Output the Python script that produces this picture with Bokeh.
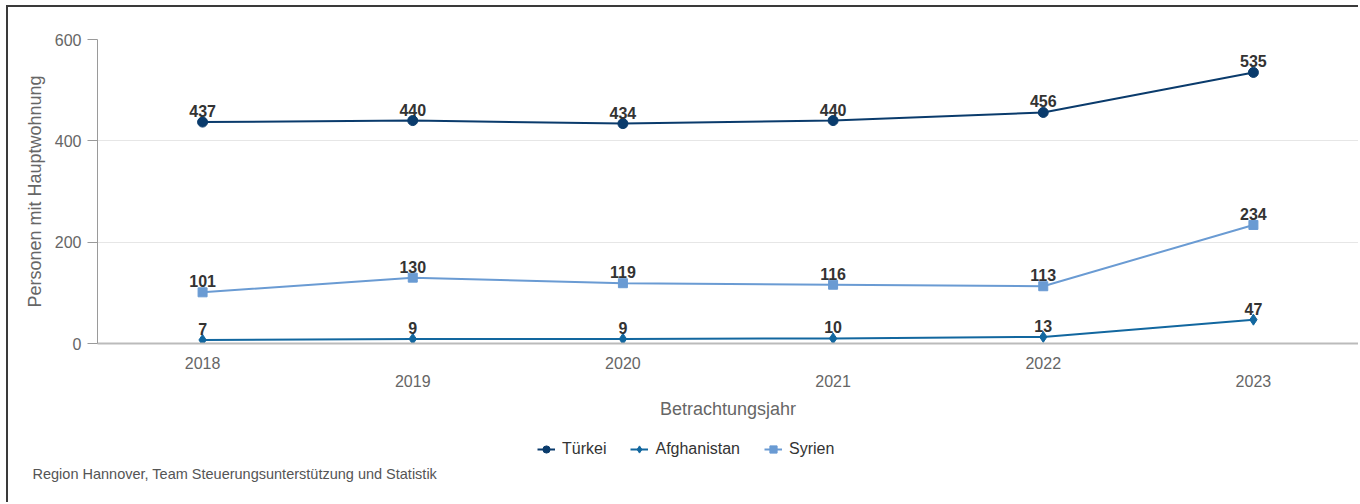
from bokeh.plotting import figure
from bokeh.models import (ColumnDataSource, LabelSet, Legend, LegendItem, Title,
                          FixedTicker, Range1d, LinearAxis)
from bokeh.layouts import column
from bokeh.core.properties import value
from bokeh.embed import file_html
from bokeh.resources import INLINE

years = [2018, 2019, 2020, 2021, 2022, 2023]
tuerkei = [437, 440, 434, 440, 456, 535]
afghanistan = [7, 9, 9, 10, 13, 47]
syrien = [101, 130, 119, 116, 113, 234]
y_ticks = [0, 200, 400, 600]

FONT = "Liberation Sans"
C_T = "#0a3b6c"
C_A = "#12679f"
C_S = "#6a9bd3"
BORDER = "2px solid #3a3a3a"

# ---------------- main chart ----------------
p = figure(x_range=Range1d(years[0] - 0.5, years[-1] + 0.5), y_range=Range1d(0, 600),
           width=1352, height=426, output_backend="svg", toolbar_location=None,
           x_axis_location=None,
           min_border_left=89, min_border_right=2, min_border_top=32,
           min_border_bottom=90)
p.styles = {"border-left": BORDER, "border-top": BORDER,
            "margin-left": "6px", "margin-top": "5px"}
p.outline_line_color = None
p.background_fill_color = "white"
p.border_fill_color = "white"

p.xgrid.grid_line_color = None
p.ygrid.grid_line_color = "#e6e6e6"
p.ygrid.ticker = FixedTicker(ticks=y_ticks)

p.yaxis.ticker = FixedTicker(ticks=y_ticks)
p.yaxis.axis_line_color = "#9a9a9a"
p.yaxis.major_tick_line_color = "#9a9a9a"
p.yaxis.major_tick_out = 10
p.yaxis.major_tick_in = 0
p.yaxis.minor_tick_line_color = None
p.yaxis.major_label_text_font = FONT
p.yaxis.major_label_text_font_size = "16px"
p.yaxis.major_label_text_color = "#666666"
p.yaxis.major_label_standoff = 6
p.yaxis.axis_label = "Personen mit Hauptwohnung"
p.yaxis.axis_label_text_font = FONT
p.yaxis.axis_label_text_font_size = "18px"
p.yaxis.axis_label_text_font_style = "normal"
p.yaxis.axis_label_text_color = "#666666"
p.yaxis.axis_label_standoff = 7

# x axis: two staggered rows of year labels
xa = LinearAxis(ticker=FixedTicker(ticks=years[0::2]),
                axis_line_color="#bbbbbb", axis_line_width=2,
                major_tick_line_color=None, minor_tick_line_color=None,
                major_tick_out=0, major_tick_in=0,
                major_label_text_font=FONT, major_label_text_font_size="16px",
                major_label_text_color="#666666", major_label_standoff=13)
p.add_layout(xa, "below")
xb = LinearAxis(ticker=FixedTicker(ticks=years[1::2]),
                axis_line_color=None, major_tick_line_color=None,
                minor_tick_line_color=None, major_tick_out=0, major_tick_in=0,
                major_label_text_font=FONT, major_label_text_font_size="16px",
                major_label_text_color="#666666", major_label_standoff=3,
                axis_label="Betrachtungsjahr", axis_label_text_font=FONT,
                axis_label_text_font_size="18px",
                axis_label_text_font_style="normal",
                axis_label_text_color="#666666", axis_label_standoff=9)
p.add_layout(xb, "below")

series = [("Türkei", tuerkei, C_T, "circle", 10),
          ("Afghanistan", afghanistan, C_A, "diamond", 11),
          ("Syrien", syrien, C_S, "square", 9)]
for name, vals, col, marker, size in series:
    src = ColumnDataSource(dict(x=years, y=vals, t=[str(v) for v in vals]))
    p.line("x", "y", source=src, line_color=col, line_width=2)
    p.scatter("x", "y", source=src, marker=marker, size=size,
              fill_color=col, line_color=col)
    p.add_layout(LabelSet(x="x", y="y", text="t", source=src, y_offset=5,
                          text_align="center", text_baseline="bottom",
                          text_font=value(FONT), text_font_size=value("16px"),
                          text_font_style="bold", text_color="#333333"))

# ---------------- legend + credit strip ----------------
p2 = figure(x_range=Range1d(years[0] - 0.5, years[-1] + 0.5), y_range=Range1d(-2, -1),
            width=1352, height=71, output_backend="svg", toolbar_location=None,
            x_axis_location=None, y_axis_location=None,
            min_border_left=0, min_border_right=0, min_border_top=0,
            min_border_bottom=41)
p2.styles = {"border-left": BORDER, "margin-left": "6px"}
p2.outline_line_color = None
p2.grid.visible = False
p2.background_fill_color = "white"
p2.border_fill_color = "white"

items = []
for name, vals, col, marker, size in series:
    l = p2.line(years, vals, line_color=col, line_width=2)
    s = p2.scatter(years, vals, marker=marker, size=size, fill_color=col, line_color=col)
    items.append(LegendItem(label=name, renderers=[l, s]))

legend = Legend(items=items, orientation="horizontal", location=(440, 2),
                label_text_font=FONT, label_text_font_size="16px",
                label_text_color="#333333", border_line_color=None,
                background_fill_alpha=0, glyph_width=18, glyph_height=20,
                spacing=24, padding=0, margin=0, label_standoff=7)
p2.add_layout(legend, "center")

credit = Title(text="Region Hannover, Team Steuerungsunterstützung und Statistik",
               align="left", offset=-65, text_font=FONT,
               text_font_size="14.5px", text_font_style="normal",
               text_color="#555555", standoff=4)
p2.add_layout(credit, "below")

layout = column(p, p2, spacing=0)
open("out.html", "w").write(file_html(layout, INLINE))
